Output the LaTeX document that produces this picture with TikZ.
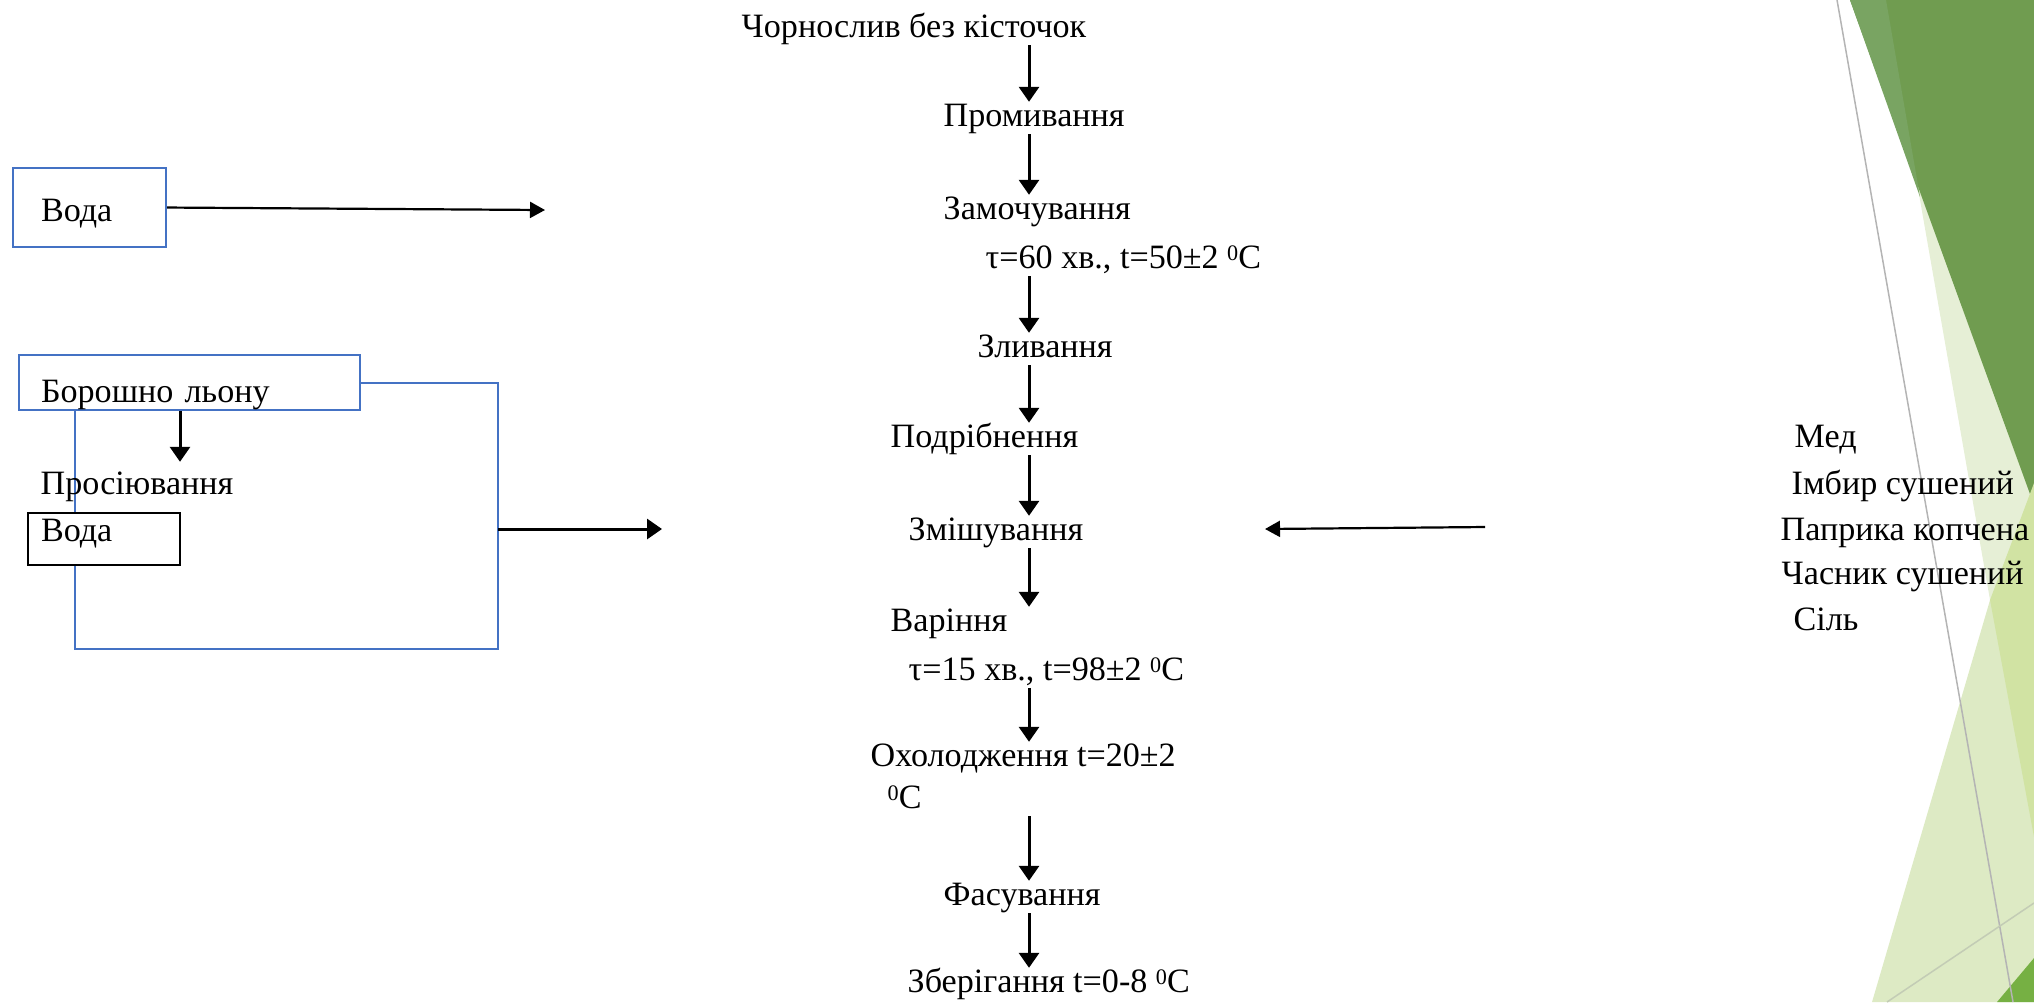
\documentclass[tikz,border=0pt]{standalone}
\usepackage{fontspec}
\setmainfont{Liberation Serif}
\usetikzlibrary{arrows.meta, positioning, calc}
\definecolor{boxblue}{HTML}{4472C4}
\definecolor{facetdark}{HTML}{709C50}
\definecolor{facetstripe}{HTML}{79A462}
\definecolor{facetpale}{HTML}{E6EFD6}
\definecolor{facetlight}{HTML}{DDEAC4}
\definecolor{facetmid}{HTML}{D1E3A3}
\definecolor{facetbright}{HTML}{76B043}
\definecolor{facetline}{HTML}{B4B4B4}
\definecolor{facetlinegreen}{HTML}{C3CCB5}
\newcommand{\stagefont}{\fontsize{9.7pt}{11.6pt}\selectfont}
\newcommand{\degc}{\raisebox{2.2pt}{\fontsize{6.3pt}{7pt}\selectfont 0}C}
\tikzset{
  stage/.style={anchor=west, inner sep=0, font=\stagefont,
                text height=0.24cm, text depth=0.07cm},
  srcbox/.style={draw=boxblue, line width=0.02cm, anchor=north west,
                 inner ysep=0.01cm, align=left, font=\stagefont},
  loopframe/.style={draw=boxblue, line width=0.02cm},
  flow/.style={-{Triangle[length=0.15cm,width=0.2cm]}, line width=0.03cm},
  feed/.style={-{Triangle[length=0.15cm,width=0.16cm]}, line width=0.022cm},
}

\begin{document}
\begin{tikzpicture}[x=0.01cm, y=-0.01cm]
  \useasboundingbox (0,0) rectangle (2034,1002);

  % --- Slide decoration ---
  \fill[facetpale]   (1885,0) -- (2034,0) -- (2034,600) -- (1990,600) -- cycle;
  \fill[facetdark]   (1850,0) -- (2034,0) -- (2034,505) -- cycle;
  \fill[facetstripe] (1850,0) -- (1886,0) -- (1920,197) -- cycle;
  \fill[facetlight]  (1990,600) -- (2034,600) -- (2034,1002) -- (1872,1002) -- cycle;
  \fill[facetmid]    (2034,483) -- (1990,600) -- (2034,837) -- cycle;
  \fill[facetbright] (1997,1002) -- (2034,958) -- (2034,1002) -- cycle;
  \draw[facetline, line width=0.015cm] (1837,0) -- (2013,1002);
  \draw[facetlinegreen, line width=0.015cm] (1887,1002) -- (2034,903);

  % --- Main line ---
  \coordinate (spine) at (1029,0);
  \node[stage] (chorn) at (741,29)  {Чорнослив без кісточок};
  \node[stage] (prom)  at (943,118) {Промивання};
  \node[stage] (zam)   at (943,211) {Замочування};
  \node[stage] (zamp)  at (985,260) {τ=60 хв., t=50±2 \degc};
  \node[stage] (zliv)  at (977,349) {Зливання};
  \node[stage] (podr)  at (890,439) {Подрібнення};
  \node[stage] (zmish) at (908,532) {Змішування};
  \node[stage] (var)   at (890,623) {Варіння};
  \node[stage] (varp)  at (908,672) {τ=15 хв., t=98±2 \degc};
  \node[stage] (okh)   at (870,758) {Охолодження t=20±2};
  \node[stage] (okhc)  at (887,800) {\degc};
  \node[stage] (fas)   at (943,897) {Фасування};
  \node[stage] (zber)  at (907,984) {Зберігання t=0-8 \degc};

  \draw[flow] (chorn.south -| spine) -- (prom.north -| spine);
  \draw[flow] (prom.south -| spine)  -- (zam.north -| spine);
  \draw[flow] (zamp.south -| spine)  -- (zliv.north -| spine);
  \draw[flow] (zliv.south -| spine)  -- (podr.north -| spine);
  \draw[flow] (podr.south -| spine)  -- (zmish.north -| spine);
  \draw[flow] (zmish.south -| spine) -- (var.north -| spine);
  \draw[flow] (varp.south -| spine)  -- (okh.north -| spine);
  \draw[flow] (okhc.south -| spine)  -- (fas.north -| spine);
  \draw[flow] (fas.south -| spine)   -- (zber.north -| spine);

  % --- Water for soaking ---
  \node[srcbox, text width=0.97cm, inner xsep=0.28cm,
        text height=0.525cm, text depth=0.245cm] (voda1) at (12,167) {Вода};
  \coordinate (soakL) at (545,210);
  \draw[feed] (voda1.east) -- (soakL);

  % --- Flax flour branch ---
  \node[srcbox, text width=2.97cm, inner xsep=0.22cm,
        text height=0.46cm, text depth=0.07cm] (flour) at (18,354) {Борошно льону};
  \coordinate (frBR) at (498,649);
  \coordinate (frBL) at (75,649);
  \draw[loopframe] (flour.east) -| (frBR) -| (flour.south -| frBL);

  \node[stage] (sieve) at (40,486) {Просіювання};
  \coordinate (sievex) at (180,0);
  \draw[flow, shorten >=0.08cm] (flour.south -| sievex) -- (sieve.north -| sievex);

  \node[srcbox, draw=black, fill=white, text width=1.26cm, inner xsep=0.13cm,
        text height=0.275cm, text depth=0.225cm] (voda2) at (27,512) {Вода};

  \coordinate (frR) at (498,529);
  \coordinate (mixL) at (662,529);
  \draw[flow] (frR) -- (mixL);

  % --- Spices ---
  \node[stage] (med)    at (1794,439) {Мед};
  \node[stage] (imbyr)  at (1791,486) {Імбир сушений};
  \node[stage] (papr)   at (1780,532) {Паприка копчена};
  \node[stage] (chasn)  at (1781,576) {Часник сушений};
  \node[stage] (sil)    at (1793,622) {Сіль};

  \coordinate (spiceR) at (1485,527);
  \coordinate (mixR) at (1265,529);
  \draw[feed] (spiceR) -- (mixR);

\end{tikzpicture}
\end{document}
